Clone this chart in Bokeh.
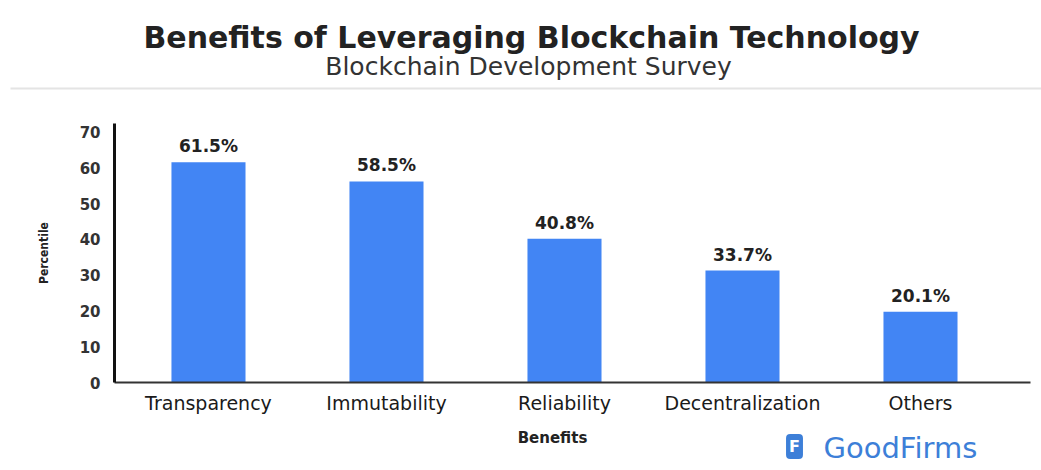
from bokeh.plotting import figure
from bokeh.models import Range1d, FixedTicker, Label, ColumnDataSource
from bokeh.layouts import column
from bokeh.embed import file_html
from bokeh.resources import INLINE
from bokeh.core.properties import value

# ---- data ----
title_text = "Benefits of Leveraging Blockchain Technology"
subtitle_text = "Blockchain Development Survey"
categories = ["Transparency", "Immutability", "Reliability", "Decentralization", "Others"]
bar_values = [61.6, 56.2, 40.2, 31.3, 19.8]
bar_labels = ["61.5%", "58.5%", "40.8%", "33.7%", "20.1%"]
y_ticks = [0, 10, 20, 30, 40, 50, 60, 70]
x_label = "Benefits"
y_label = "Percentile"
brand = "GoodFirms"

FONT = "DejaVu Sans"
BLUE = "#4285f4"
BRAND_BLUE = "#3d7fd8"
W = 1041


def plain(fig):
    fig.grid.visible = False
    fig.outline_line_color = None
    if "frame_align" in fig.properties():
        fig.frame_align = False
    return fig


# ---- header ----
HH = 90
hdr = plain(figure(width=W, height=HH, x_range=Range1d(0, W), y_range=Range1d(0, HH),
                   output_backend="svg", toolbar_location=None, min_border=0,
                   x_axis_location=None, y_axis_location=None))
hdr.text(x=[531], y=[53], text=[title_text], text_font=value(FONT), text_font_style="bold",
         text_font_size="30px", text_align="center", text_baseline="middle", text_color="#222222")
hdr.text(x=[528], y=[24], text=[subtitle_text], text_font=value(FONT),
         text_font_size="25px", text_align="center", text_baseline="middle", text_color="#333333")
hdr.segment(x0=[10], y0=[2], x1=[W], y1=[2], line_color="#e4e4e4", line_width=2)

# ---- main chart ----
xs = list(range(len(categories)))
src = ColumnDataSource(dict(x=xs, top=bar_values, label=bar_labels))

p = plain(figure(width=W, height=335, x_range=Range1d(-0.528, 4.618), y_range=Range1d(0, 72.4),
                 output_backend="svg", toolbar_location=None,
                 min_border_left=114, min_border_right=11, min_border_top=33, min_border_bottom=43))

p.vbar(x="x", top="top", width=0.416, source=src, fill_color=BLUE, line_color=None)
p.text(x="x", y="top", text="label", source=src, y_offset=-6, text_align="center",
       text_baseline="bottom", text_font=value(FONT), text_font_style="bold",
       text_font_size="17px", text_color="#222222")

p.yaxis.ticker = FixedTicker(ticks=y_ticks)
p.yaxis.axis_line_width = 3
p.yaxis.axis_line_color = "#111111"
p.yaxis.major_tick_line_color = None
p.yaxis.minor_tick_line_color = None
p.yaxis.major_tick_in = 0
p.yaxis.major_tick_out = 0
p.yaxis.major_label_standoff = 14
p.yaxis.major_label_text_font = FONT
p.yaxis.major_label_text_font_style = "bold"
p.yaxis.major_label_text_font_size = "15px"
p.yaxis.major_label_text_color = "#333333"
p.yaxis.axis_label = y_label
p.yaxis.axis_label_text_font = "DejaVu Sans Condensed"
p.yaxis.axis_label_text_font_style = "bold"
p.yaxis.axis_label_text_font_size = "12px"
p.yaxis.axis_label_text_color = "#222222"
p.yaxis.axis_label_standoff = 26

p.xaxis.ticker = FixedTicker(ticks=xs)
p.xaxis.major_label_overrides = {i: c for i, c in zip(xs, categories)}
p.xaxis.axis_line_width = 2
p.xaxis.axis_line_color = "#333333"
p.xaxis.major_tick_line_color = None
p.xaxis.minor_tick_line_color = None
p.xaxis.major_tick_in = 0
p.xaxis.major_tick_out = 0
p.xaxis.major_label_standoff = 9
p.xaxis.major_label_text_font = FONT
p.xaxis.major_label_text_font_size = "19px"
p.xaxis.major_label_text_color = "#1a1a1a"

# ---- footer (axis title and brand) ----
FH = 45
ftr = plain(figure(width=W, height=FH, x_range=Range1d(0, W), y_range=Range1d(0, FH),
                   output_backend="svg", toolbar_location=None, min_border=0,
                   x_axis_location=None, y_axis_location=None))
ftr.text(x=[552], y=[33], text=[x_label], text_font=value(FONT), text_font_style="bold",
         text_font_size="15px", text_align="center", text_baseline="middle", text_color="#222222")
ftr.add_layout(Label(x=794, y=24, text="F", text_font=FONT, text_font_style="bold",
                     text_font_size="16px", text_color="white", text_align="center",
                     text_baseline="middle", background_fill_color=BRAND_BLUE,
                     padding=3, border_radius=4))
ftr.text(x=[823], y=[23], text=[brand], text_font=value(FONT), text_font_size="29px",
         text_align="left", text_baseline="middle", text_color=BRAND_BLUE)

layout = column(hdr, p, ftr, spacing=0)
open("out.html", "w").write(file_html(layout, INLINE))
